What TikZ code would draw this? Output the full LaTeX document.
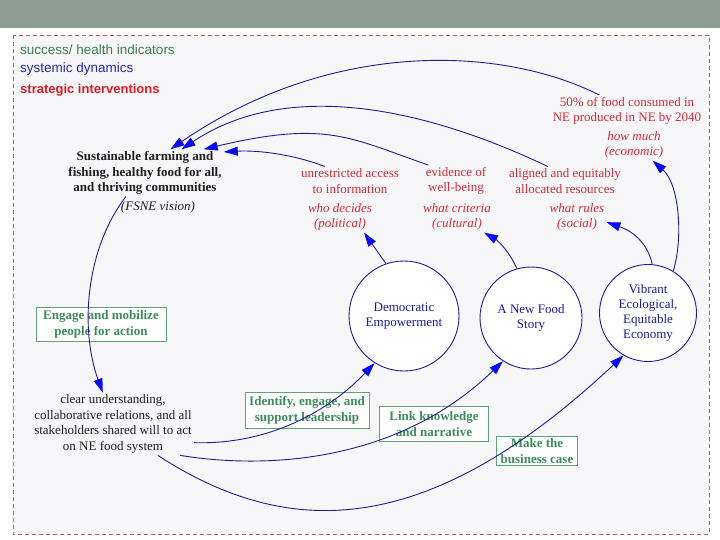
\documentclass[tikz,border=0pt]{standalone}
\usepackage{fontspec}
\setmainfont{Liberation Serif}
\newfontfamily\legendfont{Liberation Sans}
\usepackage{xcolor}
\usetikzlibrary{arrows.meta, positioning, calc}

\definecolor{barcol}{HTML}{8F9E95}
\definecolor{bgcol}{HTML}{F7F7F9}
\definecolor{bordercol}{HTML}{C85A5A}
\definecolor{inkblack}{HTML}{1E1E1E}
\definecolor{redtxt}{HTML}{D42A36}
\definecolor{legendred}{HTML}{E01A24}
\definecolor{legendgreen}{HTML}{3A7E4E}
\definecolor{legendblue}{HTML}{2A2AA0}
\definecolor{greentxt}{HTML}{3C8C5A}
\definecolor{greenbox}{HTML}{5FA274}
\definecolor{navy}{HTML}{1C1C96}
\definecolor{arrowblue}{HTML}{0A0AF0}

\begin{document}
\begin{tikzpicture}[x=1pt, y=-1pt,
    txt/.style={align=center, text=inkblack, inner sep=2pt, font=\fontsize{13}{15.5}\selectfont},
    goal/.style={txt, text=redtxt},
    why/.style={txt, text=redtxt, font=\fontsize{13}{15}\selectfont\itshape},
    lever/.style={draw=greenbox, fill=white, align=center, text=greentxt, inner sep=0pt, font=\fontsize{13}{16}\selectfont\bfseries},
    hub/.style={circle, draw=navy, fill=white, line width=0.9pt, align=center, text=navy, inner sep=0pt, font=\fontsize{13}{15}\selectfont},
    legend/.style={anchor=west, inner sep=0pt, font=\legendfont\fontsize{13.5}{15}\selectfont},
    link/.style={draw=navy, line width=0.9pt, -{Triangle[length=14pt,width=9pt,color=arrowblue]}}
]
\useasboundingbox (0,0) rectangle (720,540);
% frame
\fill[barcol] (0,0) rectangle (720,28);
\draw[bordercol, fill=bgcol, dash pattern=on 4pt off 3pt] (13,35) rectangle (709,534);

% legend
\node[legend, text=legendgreen] (lgreen) at (20,50) {success/ health indicators};
\node[legend, text=legendblue] (lblue) at (20,69) {systemic dynamics};
\node[legend, text=legendred, font=\legendfont\bfseries\fontsize{13}{15}\selectfont] (lred) at (20,90) {strategic interventions};

% vision and starting point
\node[txt, font=\fontsize{13}{15.5}\selectfont\bfseries] (vision) at (145,173) {Sustainable farming and\\fishing, healthy food for all,\\and thriving communities};
\node[txt, font=\fontsize{13}{15}\selectfont\itshape] (fsne) at (158,207) {(FSNE vision)};
\node[txt] (clear) at (113,424) {clear understanding,\\collaborative relations, and all\\stakeholders shared will to act\\on NE food system};

% strategic interventions
\node[lever, minimum width=130pt, minimum height=34pt] (mobilize) at (101,324) {Engage and mobilize\\people for action};
\node[lever, minimum width=124pt, minimum height=36pt] (leaders) at (307,410) {Identify, engage, and\\support leadership};
\node[lever, minimum width=109pt, minimum height=35pt] (narrative) at (434,424) {Link knowledge\\and narrative};
\node[lever, minimum width=81pt, minimum height=29pt, text depth=0pt] (business) at (537,451) {Make the\\business case};

% systemic dynamics
\node[hub, minimum size=110pt] (dem) at (404,316) {Democratic\\Empowerment};
\node[hub, minimum size=102pt] (story) at (531,318) {A New Food\\Story};
\node[hub, minimum size=97pt] (econ) at (648,313) {Vibrant\\Ecological,\\Equitable\\Economy};

% indicators
\node[goal] (info) at (350,181) {unrestricted access\\to information};
\node[why] (who) at (340,217) {who decides\\(political)};
\node[goal] (wellbeing) at (456,181) {evidence of\\well-being};
\node[why] (criteria) at (457,217) {what criteria\\(cultural)};
\node[goal] (resources) at (565,181) {aligned and equitably\\allocated resources};
\node[why] (rules) at (577,217) {what rules\\(social)};
\node[goal] (fifty) at (627,111) {50\% of food consumed in\\NE produced in NE by 2040};
\node[why] (howmuch) at (634,145) {how much\\(economic)};

% connectors
\draw[link] (fifty.150) .. controls (500,45) and (330,40) .. (vision.43);
\draw[link] (resources.140) .. controls (408,100) and (279,84) .. (vision.33);
\draw[link] (wellbeing.150) .. controls (350,138) and (327,120) .. (vision.22);
\draw[link] (info.150) .. controls (295,155) and (260,150) .. (vision.15);
\draw[link] (vision.231) .. controls (85,250) and (80,330) .. (clear.108);
\draw[link] (clear.-13) .. controls (270,445) and (330,410) .. (dem.238);
\draw[link] (clear.-25) .. controls (250,467) and (390,470) .. (story.237);
\draw[link] (clear.-35) .. controls (288,540) and (427,540) .. (econ.240);
\draw[link] (dem.109) -- (who.-33);
\draw[link] (story.106) .. controls (510,252) and (497,240) .. (criteria.-30);
\draw[link] (econ.85) .. controls (648,245) and (635,232) .. (rules.-10);
\draw[link] (econ.59) .. controls (683,240) and (680,185) .. (howmuch.-40);
\end{tikzpicture}
\end{document}
